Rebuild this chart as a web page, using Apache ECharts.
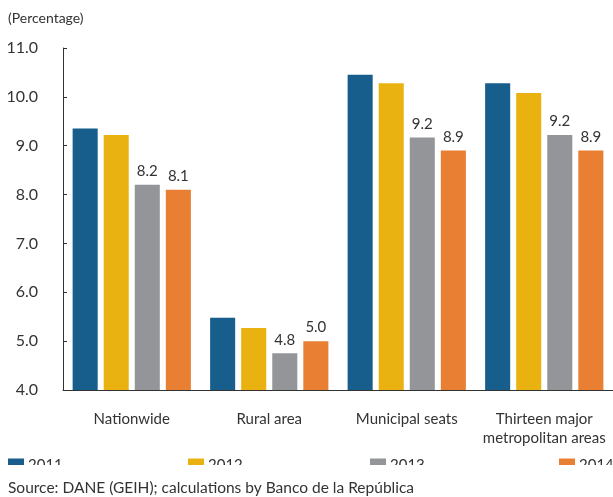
<!DOCTYPE html>
<html>
<head>
<meta charset="utf-8">
<script src="https://cdn.jsdelivr.net/npm/echarts@6/dist/echarts.min.js"></script>
<style>
  html, body { margin: 0; padding: 0; background: #fff; }
  #chart { width: 613px; height: 497px; }
</style>
</head>
<body>
<div id="chart"></div>
<script>
var dom = document.getElementById('chart');
var myChart = echarts.init(dom, null, { renderer: 'canvas' });

const categories = ['Nationwide', 'Rural area', 'Municipal seats', 'Thirteen major\nmetropolitan areas'];
const years = ['2011', '2012', '2013', '2014'];
const v2011 = [9.35, 5.48, 10.45, 10.28];
const v2012 = [9.22, 5.27, 10.28, 10.08];
const v2013 = [8.2, 4.75, 9.17, 9.22];
const v2014 = [8.1, 5.0, 8.9, 8.9];
const yTicks = [4, 5, 6, 7, 8, 9, 10, 11];

const colors = ['#185e8c', '#eab210', '#939598', '#e87f32'];
const font = 'Lato, "Open Sans", sans-serif';
const textColor = '#333';

const allValues = [v2011, v2012, v2013, v2014];
const showLabel = [false, false, true, true];

var series = years.map(function (y, i) {
  return {
    name: y,
    type: 'bar',
    data: allValues[i],
    barGap: '24%',
    barCategoryGap: '14%',
    itemStyle: { color: colors[i] },
    label: {
      show: showLabel[i],
      position: 'top',
      distance: 6,
      color: textColor,
      fontFamily: font,
      fontSize: 15,
      formatter: function (p) { return p.value.toFixed(1); }
    }
  };
});

// the legend sits half cut off at the bottom, as in the source picture
var legendX = [8, 188, 370, 559];
var legends = years.map(function (y, i) {
  return {
    data: [y],
    left: legendX[i],
    top: 458,
    padding: 0,
    itemWidth: 16,
    itemHeight: 14,
    icon: 'rect',
    selectedMode: false,
    textStyle: { color: textColor, fontFamily: font, fontSize: 15, padding: [10, 0, 0, -1] }
  };
});

var option = {
  backgroundColor: '#fff',
  animation: false,
  color: colors,
  legend: legends,
  grid: { left: 63, right: 0, top: 48, bottom: 107, containLabel: false },
  xAxis: {
    type: 'category',
    data: categories,
    axisLine: { lineStyle: { color: '#333', width: 1 } },
    axisTick: { inside: true, length: 5, lineStyle: { color: '#333' } },
    axisLabel: {
      interval: 0,
      color: textColor,
      fontFamily: font,
      fontSize: 15,
      margin: 20,
      lineHeight: 19
    }
  },
  yAxis: {
    type: 'value',
    min: yTicks[0],
    max: yTicks[yTicks.length - 1],
    interval: 1,
    axisLine: { show: true, lineStyle: { color: '#333', width: 1 } },
    axisTick: { show: true, inside: true, length: 4, lineStyle: { color: '#333' } },
    splitLine: { show: false },
    axisLabel: {
      color: textColor,
      fontFamily: font,
      fontSize: 16,
      margin: 25,
      formatter: function (v) { return v.toFixed(1); }
    }
  },
  graphic: [
    {
      type: 'text',
      left: 8,
      top: 11,
      style: { text: '(Percentage)', fill: textColor, font: '14px ' + font }
    },
    {
      type: 'rect',
      z: 100,
      shape: { x: 0, y: 465, width: 613, height: 14 },
      style: { fill: '#fff' }
    },
    {
      type: 'text',
      left: 8,
      top: 480,
      z: 101,
      style: { text: 'Source: DANE (GEIH); calculations by Banco de la República', fill: textColor, font: '15.5px ' + font }
    }
  ],
  series: series
};

myChart.setOption(option);
window.addEventListener('resize', myChart.resize);
</script>
</body>
</html>
